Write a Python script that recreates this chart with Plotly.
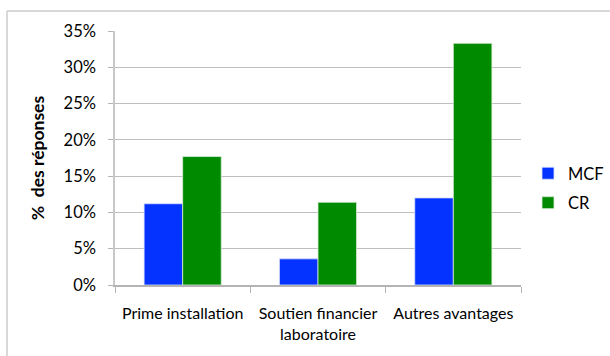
import plotly.graph_objects as go

categories = ["Prime installation", "Soutien financier<br>laboratoire", "Autres avantages"]
mcf = [0.112, 0.036, 0.120]
cr = [0.177, 0.114, 0.333]
y_ticks = [0, 0.05, 0.10, 0.15, 0.20, 0.25, 0.30, 0.35]

FONT = "Lato"
L, R, T, B = 115, 89, 31, 71
W, H = 610, 356
pw, ph = W - L - R, H - T - B

def px(x):
    return (x - L) / pw

def py(y):
    return (H - B - y) / ph

fig = go.Figure()
fig.add_trace(go.Bar(name="MCF", x=categories, y=mcf, marker=dict(color="#0433FF", line=dict(color="#d8e0ff", width=0.8)), legendgroup="a"))
fig.add_trace(go.Bar(name="CR", x=categories, y=cr, marker=dict(color="#008A00", line=dict(color="#d8ecd8", width=0.8)), legendgroup="b"))

fig.update_layout(
    width=W, height=H,
    margin=dict(l=L, r=R, t=T, b=B, pad=0, autoexpand=False),
    paper_bgcolor="white", plot_bgcolor="white",
    barmode="group", bargap=0.43, bargroupgap=0,
    font=dict(family=FONT, size=16, color="#000000"),
    showlegend=True,
    legend=dict(x=px(528), y=py(156), xanchor="left", yanchor="top",
                font=dict(size=16.5, family=FONT), tracegroupgap=5,
                bgcolor="rgba(0,0,0,0)"),
    xaxis=dict(showline=True, linecolor="#b4b4b4", linewidth=1.5,
               ticks="outside", tickson="boundaries", ticklen=6, tickcolor="#b4b4b4",
               tickfont=dict(size=16, family=FONT), showgrid=False,
               tickangle=0, automargin=False, ticklabelstandoff=13),
    yaxis=dict(range=[0, 0.35], tickvals=y_ticks, tickformat=".0%",
               showline=True, linecolor="#c8c8c8", linewidth=1.5,
               ticks="outside", ticklen=5, tickcolor="#b4b4b4",
               showgrid=True, gridcolor="#bfbfbf", gridwidth=1.3,
               tickfont=dict(size=16.5, family=FONT), ticklabelstandoff=9,
               automargin=False,
               title=dict(text="<b>%  des réponses</b>", font=dict(size=17.5, family=FONT), standoff=14),
               zeroline=False),
)

fig.add_shape(type="line", xref="paper", yref="paper",
              x0=px(7), x1=px(612), y0=py(11), y1=py(11),
              line=dict(color="#cccccc", width=1.5))
fig.add_shape(type="line", xref="paper", yref="paper",
              x0=px(7), x1=px(7), y0=py(358), y1=py(11),
              line=dict(color="#cccccc", width=1.5))

fig.write_html("out.html")
